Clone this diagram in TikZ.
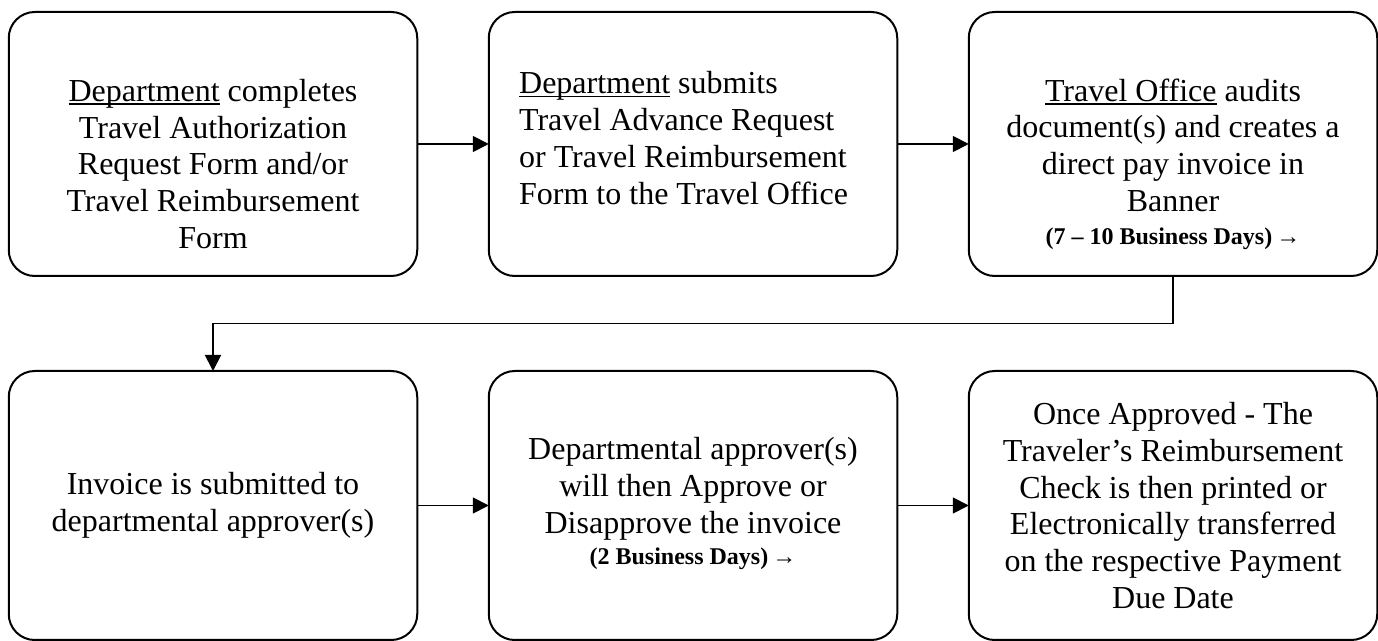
\documentclass[tikz,border=0pt]{standalone}
\usepackage{fontspec}
\setmainfont{Liberation Serif}
\usepackage{tikz}
\usetikzlibrary{arrows.meta,calc,positioning}
\newcommand{\wordline}[1]{\setbox0\hbox{#1}\rlap{\rule[-1.8pt]{\wd0}{0.8pt}}#1}
\newcommand{\busdays}[1]{{\fontsize{12}{14}\selectfont\bfseries #1}}

\begin{document}
\begin{tikzpicture}[
  box/.style={draw, line width=1pt, rounded corners=13pt, minimum width=204.25pt, inner sep=0pt, outer sep=0pt},
  toprow/.style={box, minimum height=132pt},
  botrow/.style={box, minimum height=134.5pt},
  txt/.style={inner sep=0pt, font=\fontsize{16}{18.4}\selectfont, align=center},
  link/.style={line width=0.9pt, -{Triangle[length=8pt,width=8pt]}}
]
\useasboundingbox (0,0) rectangle (689pt,-320.5pt);
% top row
\node[toprow] (b1) at (106.5pt,-72pt) {};
\node[toprow, right=35.75pt of b1] (b2) {};
\node[toprow, right=35.75pt of b2] (b3) {};
% bottom row
\node[botrow, below=47.5pt of b1] (b4) {};
\node[botrow, right=35.75pt of b4] (b5) {};
\node[botrow, right=35.75pt of b5] (b6) {};

\node[txt] (t1) at ([yshift=-10pt]b1.center) {\wordline{Department} completes\\Travel Authorization\\Request Form and/or\\Travel Reimbursement\\Form};
\node[txt, align=left, anchor=west] (t2) at ([xshift=15pt,yshift=3pt]b2.west) {\wordline{Department} submits\\Travel Advance Request\\or Travel Reimbursement\\Form to the Travel Office};
\node[txt] (t3) at ([yshift=-10pt]b3.center) {\wordline{Travel Office} audits\\document(s) and creates a\\direct pay invoice in\\Banner\\[-2pt]\busdays{(7 – 10 Business Days)\,→}};
\node[txt] (t4) at (b4.center) {Invoice is submitted to\\departmental approver(s)};
\node[txt] (t5) at ([yshift=1pt]b5.center) {Departmental approver(s)\\will then Approve or\\Disapprove the invoice\\[-3pt]\busdays{(2 Business Days)\,→}};
\node[txt] (t6) at (b6.center) {Once Approved - The\\Traveler’s Reimbursement\\Check is then printed or\\Electronically transferred\\on the respective Payment\\Due Date};

\draw[link] (b1) -- (b2);
\draw[link] (b2) -- (b3);
\draw[link] (b3.south) -- ($(b3.south)!0.5!(b6.north)$) -| (b4.north);
\draw[link] (b4) -- (b5);
\draw[link] (b5) -- (b6);
\end{tikzpicture}
\end{document}
